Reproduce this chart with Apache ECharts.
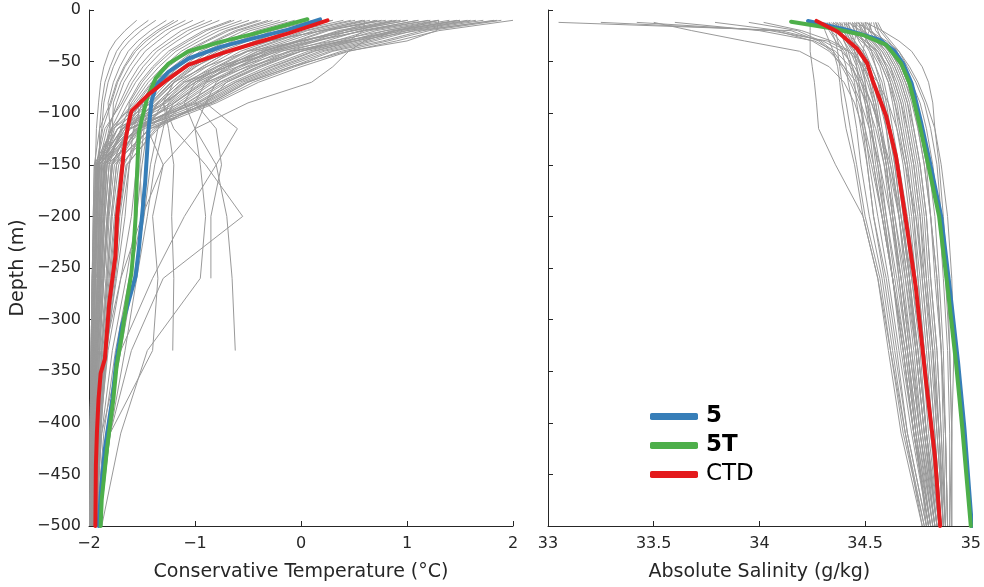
<!DOCTYPE html>
<html>
<head>
<meta charset="utf-8">
<title>Temperature and salinity profiles</title>
<script src="https://cdn.jsdelivr.net/npm/echarts@6/dist/echarts.min.js"></script>
<style>
  html, body { margin: 0; padding: 0; background: #fff; }
  #chart { width: 984px; height: 587px; }
</style>
</head>
<body>
<div id="chart"></div>
<script>
// Depth levels (m) shared by the individual temperature profiles
const tempLevels = [-10, -20, -30, -40, -55, -70, -90, -115, -150, -200, -260, -330, -410, -500];

// Individual Conservative Temperature profiles (°C), one value per level, null where the cast stops
const tempProfiles = [
  [2.00, 1.30, 0.90, 0.45, 0.00, -0.40, -0.80, -1.42, -1.78, -1.82, -1.86, -1.90, -1.93, -1.96],
  [1.82, 1.15, 0.77, 0.30, -0.09, -0.50, -0.86, -1.54, -1.88, -1.91, -1.92, -1.95, -1.97, -1.98],
  [1.65, 1.00, 0.64, 0.22, -0.19, -0.55, -0.91, -1.39, -1.70, -1.76, -1.81, -1.87, -1.91, -1.94],
  [1.47, 0.86, 0.50, 0.11, -0.28, -0.62, -0.97, -1.61, -1.91, -1.93, -1.95, -1.96, -1.98, -1.99],
  [1.29, 0.71, 0.37, 0.00, -0.37, -0.70, -1.02, -1.52, -1.81, -1.85, -1.88, -1.92, -1.95, -1.97],
  [1.11, 0.56, 0.24, -0.12, -0.47, -0.77, -1.08, -1.37, -1.64, -1.71, -1.76, -1.84, -1.89, -1.93],
  [0.94, 0.41, 0.11, -0.23, -0.56, -0.85, -1.13, -1.68, -1.93, -1.95, -1.96, -1.97, -1.98, -1.99],
  [0.76, 0.26, -0.03, -0.34, -0.65, -0.92, -1.19, -1.61, -1.85, -1.88, -1.90, -1.93, -1.96, -1.97],
  [0.58, 0.12, -0.16, -0.45, -0.74, -1.00, -1.24, -1.52, -1.74, -1.79, -1.83, -1.88, -1.92, -1.95],
  [0.40, -0.03, -0.29, -0.57, -0.84, -1.07, -1.30, -1.69, -1.90, -1.92, -1.94, -1.96, -1.97, -1.98],
  [0.23, -0.18, -0.43, -0.68, -0.93, -1.15, -1.36, -1.49, -1.67, -1.74, -1.79, -1.85, -1.90, -1.94],
  [0.05, -0.33, -0.56, -0.79, -1.02, -1.22, -1.41, -1.78, -1.95, -1.96, -1.97, -1.98, -1.99, -1.99],
  [-0.13, -0.48, -0.69, -0.91, -1.12, -1.29, -1.47, -1.68, -1.83, -1.86, -1.89, -1.92, -1.95, -1.97],
  [-0.31, -0.62, -0.82, -1.02, -1.21, -1.37, -1.52, -1.64, -1.78, -1.82, -1.86, -1.90, -1.94, -1.96],
  [-0.49, -0.77, -0.96, -1.13, -1.30, -1.44, -1.58, -1.79, -1.92, -1.93, -1.95, -1.96, -1.98, -1.99],
  [-0.66, -0.92, -1.09, -1.25, -1.40, -1.52, -1.63, -1.76, -1.86, -1.89, -1.91, -1.94, -1.96, -1.98],
  [-0.84, -1.07, -1.22, -1.36, -1.49, -1.59, -1.69, -1.85, -1.93, -1.95, -1.96, -1.97, -1.98, -1.99],
  [-1.02, -1.22, -1.35, -1.47, -1.58, -1.67, -1.74, -1.81, -1.88, -1.90, -1.92, -1.95, -1.97, -1.98],
  [-1.20, -1.36, -1.49, -1.58, -1.67, -1.74, -1.80, -1.90, -1.95, -1.96, -1.97, -1.98, -1.99, -1.99],
  [-1.37, -1.51, -1.62, -1.70, -1.77, -1.82, -1.86, -1.88, -1.92, -1.93, -1.95, -1.96, -1.98, -1.99],
  [-1.55, -1.66, -1.75, -1.81, -1.86, -1.89, -1.91, -1.93, -1.94, -1.95, -1.97, -1.98, -1.99, -1.99],
  [1.57, 0.94, 0.58, 0.18, -0.22, -0.58, -0.93, -1.55, -1.86, -1.89, -1.91, -1.94, -1.96, -1.98],
  [1.01, 0.47, 0.16, -0.18, -0.52, -0.82, -1.11, -1.53, -1.79, -1.83, -1.87, -1.91, -1.94, -1.96],
  [0.65, 0.18, -0.11, -0.41, -0.71, -0.97, -1.22, -1.69, -1.92, -1.93, -1.95, -1.96, -1.98, -1.99],
  [0.23, -0.18, -0.43, -0.68, -0.93, -1.15, -1.36, -1.66, -1.85, -1.88, -1.90, -1.93, -1.96, -1.97],
  [-0.20, -0.54, -0.74, -0.95, -1.15, -1.32, -1.49, -1.73, -1.88, -1.90, -1.92, -1.95, -1.97, -1.98],
  [-0.56, -0.83, -1.01, -1.18, -1.34, -1.47, -1.60, -1.70, -1.81, -1.85, -1.88, -1.92, -1.95, -1.97],
  [-0.91, -1.13, -1.27, -1.40, -1.53, -1.62, -1.71, -1.83, -1.91, -1.93, -1.94, -1.96, -1.98, -1.99],
  [-1.27, -1.42, -1.54, -1.63, -1.71, -1.77, -1.82, -1.80, -1.85, -1.88, -1.90, -1.93, -1.96, -1.97],
  [1.89, 1.21, 0.82, 0.38, -0.06, -0.45, -0.83, -1.48, -1.83, -1.86, -1.89, -1.92, -1.95, -1.97],
  [1.22, 0.65, 0.32, -0.05, -0.41, -0.73, -1.04, -1.61, -1.90, -1.92, -1.94, -1.96, -1.97, -1.98],
  [-0.06, -0.42, -0.64, -0.86, -1.08, -1.26, -1.44, -1.57, -1.72, -1.78, -1.82, -1.88, -1.92, -1.95],
  [0.51, 0.06, -0.21, -0.50, -0.78, -1.03, -1.27, -1.73, -1.94, -1.95, -1.97, -1.98, -1.99, -1.99],
  [-0.41, -0.71, -0.90, -1.09, -1.27, -1.41, -1.56, -1.79, -1.92, -1.94, -1.95, -1.97, -1.98, -1.99],
  [1.72, 1.06, 0.69, 0.27, -0.15, -0.52, -0.89, -1.43, -1.76, -1.81, -1.84, -1.89, -1.93, -1.95],
  [1.40, 0.80, 0.45, 0.07, -0.32, -0.65, -0.99, -1.63, -1.93, -1.95, -1.96, -1.97, -1.98, -1.99],
  [0.86, 0.35, 0.05, -0.27, -0.59, -0.88, -1.16, -1.44, -1.69, -1.75, -1.80, -1.86, -1.91, -1.94],
  [0.47, 0.03, -0.24, -0.52, -0.80, -1.04, -1.28, -1.66, -1.87, -1.90, -1.92, -1.94, -1.97, -1.98],
  [0.12, -0.27, -0.50, -0.75, -0.99, -1.19, -1.39, -1.62, -1.79, -1.83, -1.87, -1.91, -1.94, -1.96],
  [-0.27, -0.59, -0.80, -1.00, -1.19, -1.35, -1.51, -1.77, -1.91, -1.93, -1.94, -1.96, -1.98, -1.99],
  [-0.63, -0.89, -1.06, -1.22, -1.38, -1.50, -1.62, -1.64, -1.74, -1.79, -1.83, -1.88, -1.92, -1.95],
  [-1.09, -1.28, -1.41, -1.52, -1.62, -1.70, -1.77, -1.78, -1.83, -1.86, -1.89, -1.92, -1.95, -1.97],
  [-1.44, -1.57, -1.67, -1.74, -1.80, -1.85, -1.88, -1.90, -1.90, -1.92, -1.94, -1.96, -1.97, -1.98],
  [1.30, 1.28, 1.00, 0.43, -0.10, -0.50, -0.85, -1.55, -1.91, -1.93, -1.94, -1.96, -1.98, -1.99],
  [0.60, 0.59, 0.45, -0.09, -0.45, -0.76, -1.07, -1.56, -1.84, -1.87, -1.90, -1.93, -1.95, -1.97],
  [0.72, 0.23, -0.05, -0.36, -0.67, -0.94, -1.20, -1.54, -1.78, -1.82, -1.86, -1.90, -1.94, -1.96],
  [0.30, -0.12, -0.37, -0.63, -0.89, -1.12, -1.33, -1.73, -1.92, -1.94, -1.95, -1.97, -1.98, -1.99],
  [0.01, -0.36, -0.58, -0.82, -1.04, -1.23, -1.42, -1.69, -1.85, -1.88, -1.91, -1.94, -1.96, -1.97],
  [-0.77, -1.01, -1.17, -1.31, -1.45, -1.56, -1.67, -1.79, -1.89, -1.91, -1.93, -1.95, -1.97, -1.98],
  [-1.16, -1.33, -1.46, -1.56, -1.66, -1.73, -1.79, -1.87, -1.93, -1.95, -1.96, -1.97, -1.98, -1.99],
  [1.50, 0.89, 0.53, 0.13, -0.26, -0.61, -0.96, -1.35, -1.65, -1.72, -1.77, -1.84, -1.90, -1.93],
  [-0.38, -0.68, -0.88, -1.06, -1.25, -1.40, -1.54, -1.52, -1.62, -1.69, -1.75, -1.83, -1.89, -1.92],
  [1.60, 1.00, 0.40, -0.10, -0.60, -1.00, -1.30, -1.45, -1.50, -1.55, -1.65, -1.78, -1.88, -1.94],
  [0.90, 0.50, 0.00, -0.50, -0.90, -1.20, -1.40, -1.50, -1.55, -1.60, -1.70, -1.82, -1.90, -1.95],
  [1.30, 0.80, 0.30, -0.20, -0.70, -1.10, -1.35, -1.48, -1.52, -1.50, -1.62, -1.75, -1.86, -1.93],
  [0.60, 0.20, -0.30, -0.70, -1.10, -1.35, -1.50, -1.58, -1.62, -1.66, -1.74, -1.84, -1.91, -1.96],
  [1.85, 1.10, 0.50, 0.00, -0.50, -0.90, -1.20, -1.35, -1.42, -1.48, -1.58, -1.70, -1.84, -1.92],
  [1.10, 0.60, 0.15, -0.25, -0.70, -1.05, -1.25, -1.30, -1.38, -1.45, -1.55, -1.66, -1.80, -1.91],
  [1.50, 0.90, 0.40, 0.00, -0.40, -0.70, -0.90, -1.00, -0.80, -0.70, -0.65, -0.62, null, null],
  [0.80, 0.20, -0.30, -0.70, -1.00, -1.20, -1.30, -1.25, -1.20, -1.22, -1.20, -1.21, null, null],
  [0.30, -0.20, -0.60, -0.90, -1.20, -1.40, -1.50, -1.45, -1.30, -1.40, -1.35, -1.40, -1.80, -1.92],
  [1.20, 0.60, 0.10, -0.30, -0.80, -1.10, -1.30, -1.20, -0.90, -0.55, -1.30, -1.60, -1.80, -1.90],
  [1.00, 0.50, 0.00, -0.40, -0.70, -0.90, -1.00, -0.80, -0.75, -0.85, -0.85, null, null, null],
  [0.70, 0.40, 0.00, -0.35, -0.75, -1.00, -1.10, -1.00, -0.95, -0.90, -0.95, -1.45, -1.70, -1.88],
  [1.30, 0.90, 0.60, 0.45, 0.30, 0.10, -0.50, -1.00, -1.30, -1.50, -1.70, -1.85, -1.92, -1.95],
  [0.90, 0.40, 0.00, -0.30, -0.60, -0.80, -0.90, -0.60, -0.80, -1.10, -1.40, -1.70, -1.88, -1.94]
];

// Depth levels (m) shared by the individual salinity profiles
const salLevels = [-12, -20, -30, -40, -55, -70, -90, -115, -150, -200, -260, -330, -410, -500];

// Individual Absolute Salinity profiles (g/kg)
const salProfiles = [
  [34.30, 34.31, 34.33, 34.35, 34.37, 34.38, 34.39, 34.41, 34.45, 34.49, 34.56, 34.61, 34.67, 34.77],
  [34.33, 34.34, 34.36, 34.37, 34.38, 34.39, 34.41, 34.43, 34.46, 34.50, 34.57, 34.62, 34.68, 34.78],
  [34.35, 34.36, 34.37, 34.39, 34.41, 34.42, 34.44, 34.46, 34.48, 34.52, 34.58, 34.63, 34.69, 34.78],
  [34.32, 34.34, 34.38, 34.41, 34.43, 34.45, 34.46, 34.48, 34.51, 34.54, 34.60, 34.65, 34.70, 34.79],
  [34.38, 34.39, 34.40, 34.42, 34.44, 34.46, 34.48, 34.50, 34.52, 34.56, 34.61, 34.66, 34.72, 34.80],
  [34.36, 34.38, 34.41, 34.44, 34.47, 34.49, 34.50, 34.52, 34.54, 34.58, 34.63, 34.67, 34.73, 34.80],
  [34.40, 34.41, 34.43, 34.46, 34.48, 34.50, 34.52, 34.54, 34.57, 34.60, 34.64, 34.69, 34.74, 34.81],
  [34.42, 34.43, 34.45, 34.48, 34.50, 34.52, 34.54, 34.56, 34.59, 34.62, 34.66, 34.70, 34.75, 34.82],
  [34.38, 34.41, 34.45, 34.49, 34.52, 34.54, 34.56, 34.58, 34.61, 34.64, 34.68, 34.72, 34.76, 34.82],
  [34.44, 34.45, 34.47, 34.50, 34.53, 34.56, 34.58, 34.60, 34.62, 34.66, 34.69, 34.73, 34.77, 34.83],
  [34.45, 34.46, 34.49, 34.52, 34.55, 34.57, 34.59, 34.62, 34.64, 34.67, 34.71, 34.74, 34.78, 34.84],
  [34.41, 34.44, 34.49, 34.53, 34.57, 34.59, 34.61, 34.63, 34.66, 34.69, 34.72, 34.76, 34.79, 34.84],
  [34.47, 34.48, 34.51, 34.55, 34.58, 34.61, 34.63, 34.65, 34.68, 34.71, 34.74, 34.77, 34.80, 34.85],
  [34.48, 34.50, 34.53, 34.57, 34.60, 34.62, 34.65, 34.67, 34.70, 34.73, 34.75, 34.78, 34.81, 34.86],
  [34.44, 34.47, 34.53, 34.58, 34.62, 34.64, 34.67, 34.69, 34.72, 34.75, 34.77, 34.80, 34.83, 34.86],
  [34.50, 34.52, 34.55, 34.59, 34.63, 34.66, 34.69, 34.71, 34.74, 34.77, 34.79, 34.82, 34.84, 34.87],
  [34.52, 34.53, 34.57, 34.61, 34.65, 34.68, 34.71, 34.73, 34.76, 34.79, 34.81, 34.84, 34.86, 34.88],
  [34.48, 34.52, 34.58, 34.62, 34.66, 34.69, 34.73, 34.75, 34.78, 34.81, 34.83, 34.86, 34.87, 34.88],
  [34.54, 34.55, 34.59, 34.63, 34.67, 34.70, 34.74, 34.77, 34.80, 34.83, 34.85, 34.87, 34.88, 34.89],
  [34.55, 34.57, 34.61, 34.65, 34.69, 34.72, 34.76, 34.79, 34.82, 34.85, 34.87, 34.89, 34.90, 34.90],
  [34.56, 34.58, 34.62, 34.66, 34.70, 34.74, 34.78, 34.81, 34.84, 34.86, 34.88, 34.90, 34.91, 34.91],
  [34.34, 34.37, 34.42, 34.47, 34.51, 34.53, 34.55, 34.57, 34.60, 34.63, 34.67, 34.71, 34.76, 34.83],
  [34.40, 34.43, 34.48, 34.54, 34.58, 34.61, 34.64, 34.66, 34.69, 34.72, 34.75, 34.78, 34.82, 34.86],
  [34.46, 34.46, 34.45, 34.45, 34.46, 34.47, 34.48, 34.49, 34.51, 34.54, 34.59, 34.64, 34.70, 34.79],
  [34.50, 34.50, 34.51, 34.53, 34.55, 34.58, 34.60, 34.62, 34.65, 34.68, 34.71, 34.75, 34.79, 34.85],
  [34.42, 34.48, 34.56, 34.62, 34.67, 34.70, 34.73, 34.76, 34.79, 34.81, 34.84, 34.86, 34.88, 34.89],
  [34.53, 34.52, 34.50, 34.49, 34.49, 34.50, 34.51, 34.53, 34.55, 34.59, 34.63, 34.68, 34.73, 34.81],
  [34.36, 34.42, 34.50, 34.56, 34.61, 34.64, 34.67, 34.70, 34.73, 34.76, 34.78, 34.81, 34.84, 34.87],
  [34.37, 34.38, 34.40, 34.43, 34.46, 34.48, 34.51, 34.53, 34.56, 34.60, 34.65, 34.70, 34.75, 34.81],
  [34.43, 34.45, 34.50, 34.55, 34.59, 34.62, 34.64, 34.67, 34.70, 34.73, 34.76, 34.79, 34.82, 34.86],
  [34.51, 34.53, 34.56, 34.60, 34.64, 34.67, 34.70, 34.72, 34.75, 34.78, 34.80, 34.83, 34.85, 34.87],
  [34.39, 34.40, 34.42, 34.45, 34.48, 34.51, 34.54, 34.57, 34.60, 34.63, 34.67, 34.71, 34.76, 34.82],
  [34.45, 34.49, 34.55, 34.60, 34.64, 34.67, 34.70, 34.73, 34.76, 34.79, 34.81, 34.84, 34.86, 34.88],
  [34.31, 34.33, 34.36, 34.40, 34.44, 34.47, 34.50, 34.53, 34.56, 34.59, 34.63, 34.68, 34.73, 34.80],
  [34.49, 34.50, 34.52, 34.56, 34.60, 34.63, 34.66, 34.68, 34.71, 34.74, 34.77, 34.80, 34.83, 34.86],
  [34.55, 34.56, 34.58, 34.62, 34.66, 34.69, 34.72, 34.75, 34.78, 34.81, 34.84, 34.86, 34.88, 34.89],
  [34.35, 34.39, 34.44, 34.49, 34.53, 34.56, 34.59, 34.61, 34.64, 34.67, 34.71, 34.75, 34.79, 34.84],
  [34.41, 34.42, 34.44, 34.47, 34.51, 34.54, 34.57, 34.60, 34.63, 34.66, 34.70, 34.74, 34.78, 34.83],
  [34.47, 34.49, 34.54, 34.58, 34.62, 34.65, 34.68, 34.70, 34.73, 34.76, 34.79, 34.82, 34.85, 34.87],
  [34.33, 34.36, 34.41, 34.45, 34.49, 34.52, 34.55, 34.57, 34.60, 34.63, 34.66, 34.70, 34.74, 34.79],
  [33.05, 34.15, 34.28, 34.34, 34.39, 34.43, 34.47, 34.50, 34.54, 34.58, 34.63, 34.68, 34.73, 34.80],
  [33.42, 34.05, 34.32, 34.42, 34.49, 34.54, 34.58, 34.62, 34.66, 34.70, 34.74, 34.78, 34.82, 34.86],
  [33.79, 34.10, 34.30, 34.39, 34.45, 34.49, 34.53, 34.57, 34.61, 34.66, 34.70, 34.75, 34.79, 34.84],
  [34.02, 34.20, 34.34, 34.43, 34.50, 34.56, 34.61, 34.65, 34.69, 34.74, 34.78, 34.82, 34.85, 34.88],
  [33.50, 33.68, 33.93, 34.19, 34.33, 34.40, 34.45, 34.49, 34.53, 34.58, 34.63, 34.69, 34.74, 34.81],
  [33.60, 34.00, 34.26, 34.36, 34.43, 34.48, 34.53, 34.57, 34.62, 34.67, 34.72, 34.77, 34.81, 34.85],
  [33.95, 34.18, 34.29, 34.35, 34.40, 34.44, 34.48, 34.52, 34.57, 34.62, 34.67, 34.72, 34.77, 34.83],
  [33.25, 34.08, 34.25, 34.33, 34.40, 34.46, 34.51, 34.55, 34.59, 34.64, 34.69, 34.74, 34.78, 34.84],
  [34.24, 34.24, 34.24, 34.24, 34.25, 34.26, 34.27, 34.28, 34.36, 34.49, 34.56, 34.62, 34.69, 34.77],
  [34.50, 34.58, 34.66, 34.72, 34.77, 34.80, 34.82, 34.83, 34.85, 34.87, 34.89, 34.90, 34.91, 34.91],
  [34.46, 34.52, 34.60, 34.66, 34.71, 34.75, 34.79, 34.83, 34.86, 34.89, 34.91, 34.92, 34.91, 34.90]
];

// Mean profiles: [value, depth]
const temp5 = [[0.18, -9], [-0.12, -19], [-0.43, -27], [-0.75, -35.5], [-1.06, -47], [-1.25, -60],
  [-1.36, -72], [-1.41, -88], [-1.44, -118], [-1.47, -167], [-1.50, -200], [-1.53, -232], [-1.56, -258],
  [-1.62, -280], [-1.69, -306], [-1.74, -338], [-1.78, -377], [-1.85, -425], [-1.88, -457], [-1.91, -500]];
const temp5T = [[0.06, -9], [-0.43, -22.6], [-0.75, -30.6], [-1.06, -40], [-1.25, -52], [-1.37, -66],
  [-1.45, -85], [-1.50, -105], [-1.53, -119], [-1.55, -167], [-1.56, -200], [-1.58, -232], [-1.60, -255],
  [-1.64, -280], [-1.69, -315], [-1.74, -345], [-1.77, -377], [-1.83, -425], [-1.88, -474], [-1.89, -500]];
const tempCTD = [[0.25, -10], [-0.12, -22.6], [-0.43, -32], [-0.75, -42], [-1.06, -53], [-1.28, -69],
  [-1.44, -82], [-1.60, -98], [-1.63, -111], [-1.67, -135], [-1.70, -167], [-1.735, -200], [-1.75, -238],
  [-1.78, -261], [-1.81, -285], [-1.85, -338], [-1.89, -352], [-1.91, -377], [-1.925, -409], [-1.935, -441],
  [-1.94, -500]];

const sal5 = [[34.23, -10.6], [34.415, -19.3], [34.57, -29], [34.64, -40], [34.68, -52], [34.72, -71],
  [34.765, -109], [34.81, -151], [34.86, -200], [34.90, -269], [34.94, -342], [34.97, -406], [35.005, -500]];
const sal5T = [[34.15, -11.3], [34.34, -17.7], [34.49, -24.2], [34.60, -33.8], [34.67, -51.6], [34.71, -71],
  [34.756, -109.5], [34.80, -151.5], [34.85, -200], [34.89, -269], [34.93, -342], [34.96, -406], [35.0, -500]];
const salCTD = [[34.27, -10.6], [34.37, -21], [34.46, -37], [34.51, -51.6], [34.535, -68], [34.60, -103],
  [34.646, -142], [34.69, -200], [34.74, -269], [34.787, -358], [34.83, -432], [34.855, -500]];

const seriesNames = ['5', '5T', 'CTD'];
const seriesColors = ['#377eb8', '#4daf4a', '#e41a1c'];

const INK = '#262626';
const FONT = 'DejaVu Sans';
const minusSign = v => String(v).replace('-', '\u2212');

function xAxisCfg(gridIndex, min, max, interval, name) {
  return {
    gridIndex, type: 'value', min, max, interval, name,
    nameLocation: 'middle', nameGap: 37,
    nameTextStyle: { fontSize: 19, color: INK, fontFamily: FONT },
    axisLine: { show: true, onZero: false, lineStyle: { color: INK, width: 1 } },
    axisTick: { show: true, inside: true, length: 5, lineStyle: { color: INK } },
    axisLabel: { fontSize: 16, color: INK, fontFamily: FONT, margin: 10, formatter: minusSign },
    splitLine: { show: false }
  };
}
function yAxisCfg(gridIndex, showLabels) {
  return {
    gridIndex, type: 'value', min: -500, max: 0, interval: 50,
    name: showLabels ? 'Depth (m)' : '', nameLocation: 'middle', nameGap: 61,
    nameTextStyle: { fontSize: 19, color: INK, fontFamily: FONT },
    axisLine: { show: true, onZero: false, lineStyle: { color: INK, width: 1 } },
    axisTick: { show: true, inside: true, length: 5, lineStyle: { color: INK } },
    axisLabel: { show: showLabels, fontSize: 16, color: INK, fontFamily: FONT, margin: 8, formatter: minusSign },
    splitLine: { show: false }
  };
}

function profileSeries(levels, values, axisIndex) {
  const data = [];
  values.forEach((v, i) => { if (v !== null) data.push([v, levels[i]]); });
  return {
    type: 'line', name: 'cast', xAxisIndex: axisIndex, yAxisIndex: axisIndex,
    data, symbol: 'none', silent: true, z: 2,
    lineStyle: { color: '#999999', width: 1 }
  };
}
function meanSeries(name, color, data, axisIndex) {
  return {
    type: 'line', name, xAxisIndex: axisIndex, yAxisIndex: axisIndex,
    data, symbol: 'none', silent: true, z: 5, color,
    lineStyle: { color, width: 4, cap: 'round', join: 'round' }
  };
}

const series = [];
tempProfiles.forEach(p => series.push(profileSeries(tempLevels, p, 0)));
salProfiles.forEach(p => series.push(profileSeries(salLevels, p, 1)));
[temp5, temp5T, tempCTD].forEach((d, i) => series.push(meanSeries(seriesNames[i], seriesColors[i], d, 0)));
[sal5, sal5T, salCTD].forEach((d, i) => series.push(meanSeries(seriesNames[i], seriesColors[i], d, 1)));

const chart = echarts.init(document.getElementById('chart'), null, { renderer: 'canvas' });
chart.setOption({
  animation: false,
  backgroundColor: '#ffffff',
  textStyle: { fontFamily: FONT },
  grid: [
    { left: 89, top: 10, width: 424, bottom: 60 },
    { left: 548, top: 10, width: 424, bottom: 60 }
  ],
  xAxis: [
    xAxisCfg(0, -2, 2, 1, 'Conservative Temperature (°C)'),
    xAxisCfg(1, 33, 35, 0.5, 'Absolute Salinity (g/kg)')
  ],
  yAxis: [yAxisCfg(0, true), yAxisCfg(1, false)],
  legend: {
    orient: 'vertical', left: 645, top: 400,
    itemWidth: 48, itemHeight: 7, itemGap: 6, icon: 'roundRect',
    textStyle: { fontSize: 23, color: '#000', fontFamily: FONT, lineHeight: 23, padding: [0, 0, 0, 3] },
    data: [
      { name: '5', textStyle: { fontWeight: 'bold' } },
      { name: '5T', textStyle: { fontWeight: 'bold' } },
      { name: 'CTD' }
    ]
  },
  series
});
</script>
</body>
</html>
